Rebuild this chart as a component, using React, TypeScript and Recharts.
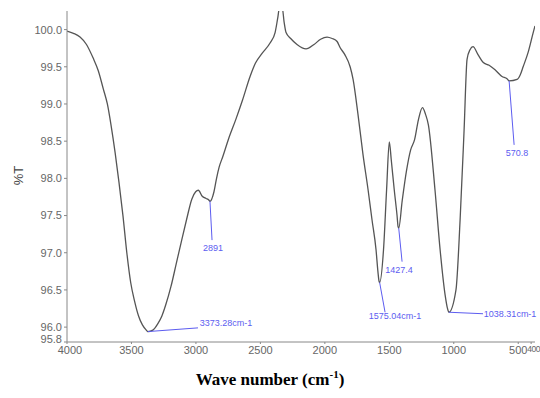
import { Line, LineChart, ReferenceDot, ReferenceLine, XAxis, YAxis } from 'recharts'

// wavenumber (cm-1), high to low
const WAVENUMBERS = [
  4000, 3950, 3899, 3849, 3798, 3758, 3718, 3687, 3657, 3627, 3597, 3566, 3536, 3506, 3476, 3445, 3415, 3385,
  3373, 3334, 3294, 3264, 3234, 3193, 3153, 3113, 3072, 3032, 3002, 2981, 2951, 2921, 2900, 2891, 2860, 2840,
  2820, 2790, 2749, 2689, 2639, 2580, 2538, 2487, 2425, 2386, 2366, 2351, 2331, 2316, 2301, 2265, 2216, 2146,
  2084, 2033, 1983, 1943, 1905, 1882, 1844, 1804, 1781, 1743, 1704, 1665, 1634, 1603, 1588, 1580, 1575, 1545,
  1521, 1500, 1485, 1462, 1440, 1432, 1427, 1400, 1366, 1335, 1304, 1274, 1243, 1219, 1197, 1146, 1106, 1067,
  1050, 1038, 983, 951, 920, 897, 874, 851, 811, 773, 726, 680, 626, 587, 570.8, 509, 485, 462, 424, 384, 370,
]

// transmittance (%T)
const TRANSMITTANCE = [
  99.98, 99.95, 99.9, 99.8, 99.62, 99.45, 99.2, 99.0, 98.7, 98.35, 97.95, 97.5, 97.0, 96.6, 96.35, 96.15, 96.03, 95.96,
  95.94, 95.96, 96.05, 96.15, 96.3, 96.55, 96.85, 97.15, 97.45, 97.72, 97.82, 97.84, 97.76, 97.73, 97.71, 97.69, 97.82, 98.0,
  98.15, 98.3, 98.52, 98.8, 99.05, 99.37, 99.55, 99.68, 99.82, 99.96, 100.15, 100.3, 100.3, 100.1, 99.96, 99.88, 99.8, 99.74,
  99.8, 99.87, 99.9, 99.88, 99.84, 99.76, 99.66, 99.5, 99.33, 98.86, 98.32, 97.85, 97.44, 97.04, 96.74, 96.62, 96.6, 97.04,
  97.85, 98.49, 98.25, 97.85, 97.5, 97.35, 97.33, 97.7, 98.11, 98.38, 98.52, 98.79, 98.95, 98.86, 98.72, 97.85, 97.04, 96.43,
  96.26, 96.2, 96.5, 97.44, 98.65, 99.6, 99.73, 99.77, 99.66, 99.56, 99.52, 99.46, 99.37, 99.34, 99.31, 99.33, 99.39, 99.5, 99.69, 99.96, 100.05,
]

const X_TICKS = [4000, 3500, 3000, 2500, 2000, 1500, 1000, 500, 400]
const Y_TICKS = [95.8, 96.0, 96.5, 97.0, 97.5, 98.0, 98.5, 99.0, 99.5, 100.0]

// peak labels
const PEAK_LABELS = ['3373.28cm-1', '2891', '1575.04cm-1', '1427.4', '1038.31cm-1', '570.8']
const PEAK_WAVENUMBERS = [3373, 2891, 1575, 1427, 1038, 570.8]
const PEAK_VALUES = [95.94, 97.69, 96.6, 97.33, 96.2, 99.31]

// where each label sits (data coords) and where its leader line ends
const LABEL_ANCHORS = [
  { x: 2766, y: 96.06, endX: 2984, endY: 95.99 },
  { x: 2867, y: 97.07, endX: 2875, endY: 97.17 },
  { x: 1455, y: 96.15, endX: 1533, endY: 96.2 },
  { x: 1424, y: 96.77, endX: 1401, endY: 96.88 },
  { x: 563, y: 96.18, endX: 773, endY: 96.18 },
  { x: 509, y: 98.34, endX: 532, endY: 98.45 },
]

const data = WAVENUMBERS.map((w, i) => ({ w, t: TRANSMITTANCE[i] }))

const BLUE = '#5c5cf0'
const FONT = 'Liberation Sans, Arial, sans-serif'

function XTick({ x, y, payload }: any) {
  const v = payload.value
  // the 400 label is squeezed against the 500 one at the right edge
  if (v === 400) {
    return (
      <text x={x - 4} y={y + 1} dy="0.71em" textAnchor="start" fill="#666" fontSize={8.5} letterSpacing={-0.4} fontFamily={FONT}>
        {v}
      </text>
    )
  }
  return (
    <text x={v === 4000 ? x + 3 : x} y={y + 1} dy="0.71em" textAnchor="middle" fill="#666" fontSize={11} fontFamily={FONT}>
      {v}
    </text>
  )
}

function YTick({ x, y, payload }: any) {
  const v = payload.value as number
  // 95.8 sits right on top of 96.0 and the 4000 label, nudge it up a bit
  return (
    <text x={x} y={v === 95.8 ? y - 3 : y} dy="0.355em" textAnchor="end" fill="#666" fontSize={11} fontFamily={FONT}>
      {v.toFixed(1)}
    </text>
  )
}

export default function App() {
  return (
    <div style={{ position: 'absolute', left: 0, top: 0, width: 540, height: 398, background: '#fff' }}>
      <LineChart width={540} height={398} data={data} margin={{ top: 11, right: 5, left: 0, bottom: 0 }}>
        <XAxis
          dataKey="w"
          type="number"
          domain={[370, 4000]}
          reversed
          allowDataOverflow
          ticks={X_TICKS}
          interval={0}
          height={56}
          stroke="#888"
          tickSize={2}
          tickMargin={1}
          tick={<XTick />}
        />
        <YAxis
          type="number"
          domain={[95.8, 100.25]}
          allowDataOverflow
          ticks={Y_TICKS}
          interval={0}
          width={67}
          stroke="#888"
          tickSize={3}
          tickMargin={2}
          tick={<YTick />}
        />
        <Line
          dataKey="t"
          type="monotone"
          stroke="#555"
          strokeWidth={1.3}
          dot={false}
          isAnimationActive={false}
        />
        {PEAK_LABELS.map((label, i) => (
          <ReferenceLine
            key={`l-${label}`}
            segment={[
              { x: PEAK_WAVENUMBERS[i], y: PEAK_VALUES[i] },
              { x: LABEL_ANCHORS[i].endX, y: LABEL_ANCHORS[i].endY },
            ]}
            stroke={BLUE}
            strokeWidth={1}
            ifOverflow="visible"
          />
        ))}
        {PEAK_LABELS.map((label, i) => (
          <ReferenceDot
            key={`d-${label}`}
            x={LABEL_ANCHORS[i].x}
            y={LABEL_ANCHORS[i].y}
            r={0}
            stroke="none"
            fill="none"
            ifOverflow="visible"
            label={{ value: label, position: 'center', fill: BLUE, fontSize: 9, fontFamily: FONT }}
          />
        ))}
      </LineChart>
      <div
        style={{
          position: 'absolute',
          left: 6,
          top: 168,
          width: 24,
          textAlign: 'center',
          transform: 'rotate(-90deg)',
          fontFamily: FONT,
          fontSize: 13,
          color: '#444',
        }}
      >
        %T
      </div>
      <div
        style={{
          position: 'absolute',
          left: 0,
          width: 540,
          top: 368,
          textAlign: 'center',
          fontFamily: 'Liberation Serif, Times New Roman, serif',
          fontWeight: 'bold',
          fontSize: 17,
          color: '#000',
        }}
      >
        Wave number (cm<sup style={{ fontSize: 11 }}>-1</sup>)
      </div>
    </div>
  )
}
